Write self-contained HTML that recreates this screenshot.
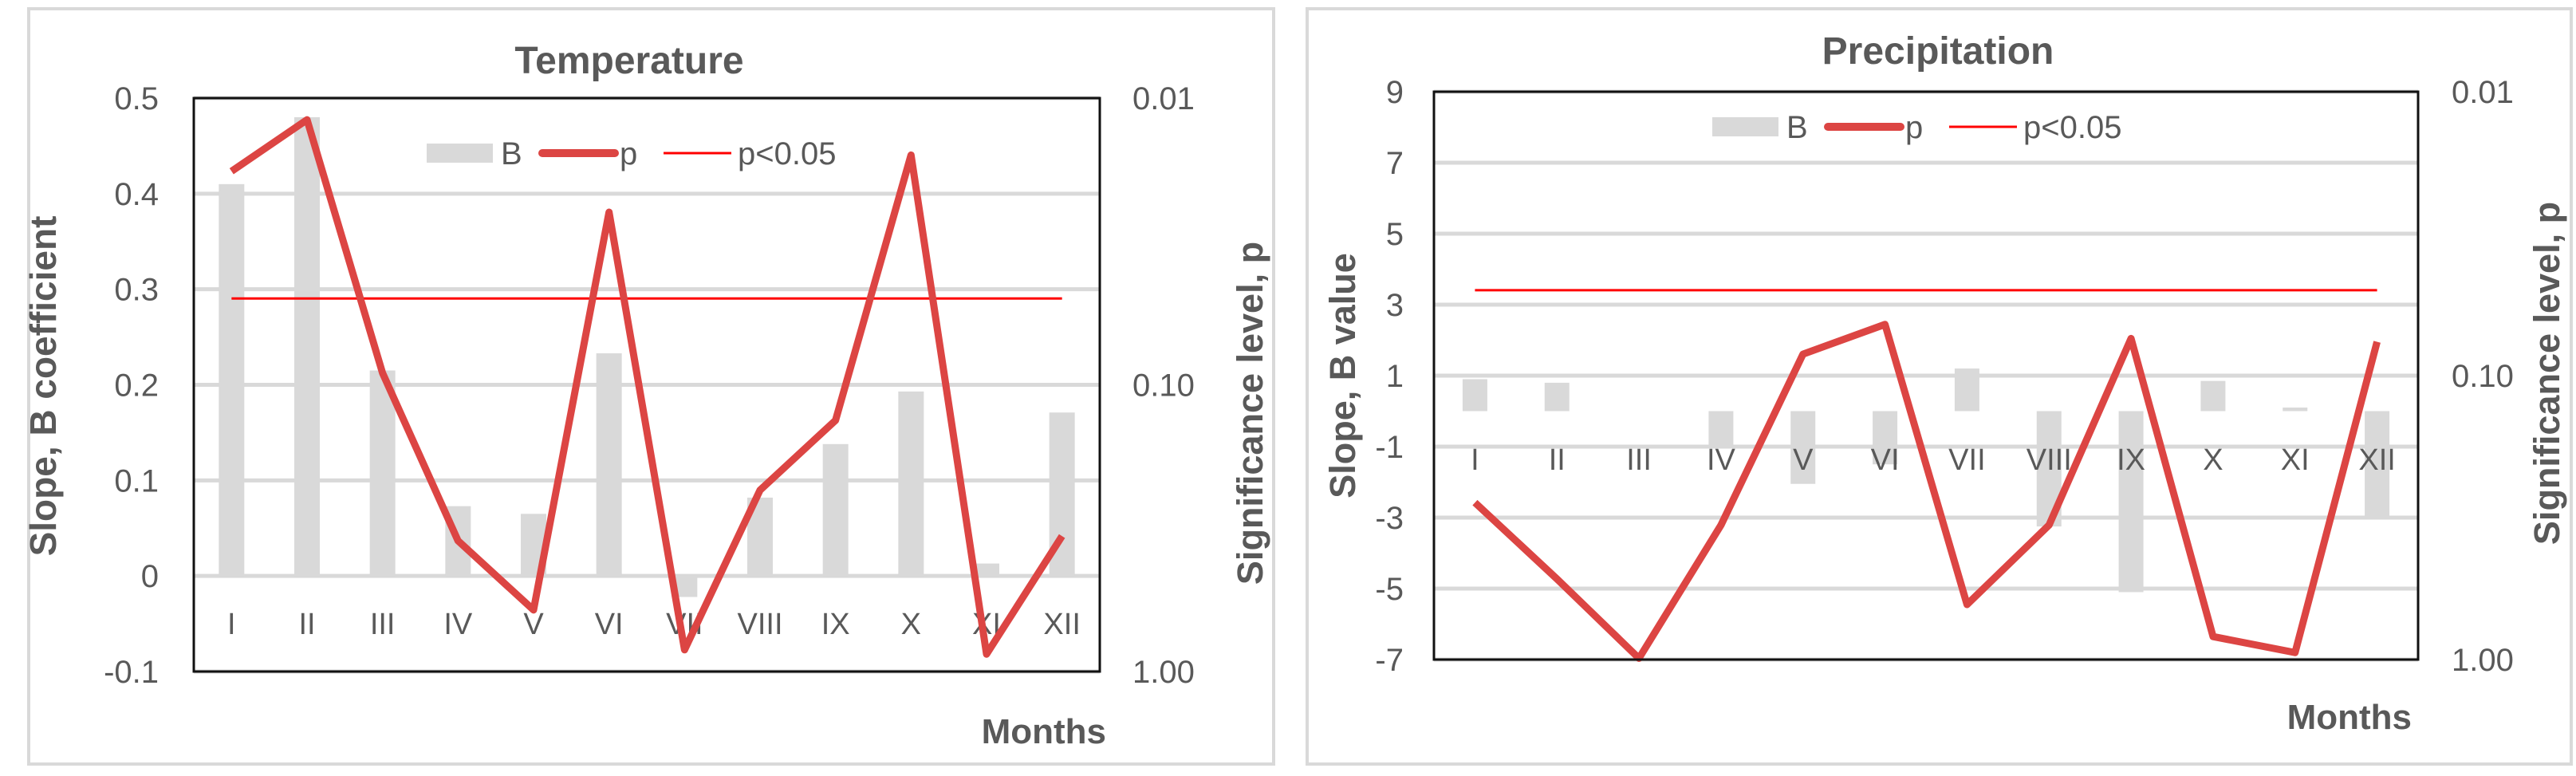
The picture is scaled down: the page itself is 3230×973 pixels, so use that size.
<!DOCTYPE html>
<html><head><meta charset="utf-8"><style>
html,body{margin:0;padding:0;background:#fff;}
svg{display:block;}
text{font-family:"Liberation Sans Narrow","Liberation Sans",sans-serif;fill:#595959;}
.b{font-family:"Liberation Sans",sans-serif;font-weight:bold;}
</style></head><body>
<svg id="c" width="3230" height="973" viewBox="0 0 3230 973" xmlns="http://www.w3.org/2000/svg"></svg>
<script>
const months = ["I","II","III","IV","V","VI","VII","VIII","IX","X","XI","XII"];
const tempB = [0.41,0.48,0.215,0.073,0.065,0.233,-0.022,0.082,0.138,0.193,0.013,0.171];
const tempP = [0.018,0.0119,0.091,0.35,0.61,0.025,0.84,0.233,0.133,0.0158,0.87,0.337];
const tempTicks = ["0.5","0.4","0.3","0.2","0.1","0","-0.1"];
const precB = [0.9,0.8,0,-1.0,-2.05,-1.5,1.2,-3.25,-5.1,0.85,0.1,-3.0];
const precP = [0.28,0.52,0.99,0.336,0.084,0.066,0.64,0.336,0.074,0.83,0.945,0.076];
const precTicks = ["9","7","5","3","1","-1","-3","-5","-7"];
const pTicks = ["0.01","0.10","1.00"];
const pThreshold = 0.05;

const svg=document.getElementById('c');
const NS="http://www.w3.org/2000/svg";
function mk(tag,attrs,parent,txt){const e=document.createElementNS(NS,tag);for(const k in attrs)e.setAttribute(k,attrs[k]);if(txt!==undefined)e.textContent=txt;(parent||svg).appendChild(e);return e;}

function chart(cfg){
  const g=mk('g',{});
  
  
  const f=mk('rect',{x:cfg.ox,y:11,width:cfg.ow,height:947,fill:'#fff',stroke:'#d9d9d9','stroke-width':4},g);
  
  const L=cfg.L,R=cfg.R,T=cfg.T,B=cfg.B;
  const ymin=cfg.ymin,ymax=cfg.ymax;
  const y=v=>T+(ymax-v)/(ymax-ymin)*(B-T);
  const yp=p=>T+(Math.log10(p)+2)/2*(B-T);
  const bw=(R-L)/months.length;
  const x=i=>L+bw*(i+0.5);
  cfg.ticks.forEach((t,i)=>{
    const v=parseFloat(t);
    const gl=mk('line',{x1:L,x2:R,y1:y(v),y2:y(v),stroke:'#d9d9d9','stroke-width':5},g);
    
    const tl=mk('text',{x:cfg.ltx,y:y(v)+14,'text-anchor':'end','font-size':40},g,t);
    
  });
  pTicks.forEach(t=>{
    const tl=mk('text',{x:cfg.rtx,y:yp(parseFloat(t))+14,'font-size':40},g,t);
    
  });
  cfg.bv.forEach((v,i)=>{
    const y0=y(0),y1=y(v);
    const r=mk('rect',{x:x(i)-cfg.barw/2,y:Math.min(y0,y1),width:cfg.barw,height:Math.abs(y1-y0),fill:'#d9d9d9'},g);
    
  });
  months.forEach((m,i)=>{
    const t=mk('text',{x:x(i),y:cfg.catY,'text-anchor':'middle','font-size':38},g,m);
    
  });
  const th=mk('line',{x1:x(0),x2:x(months.length-1),y1:yp(pThreshold),y2:yp(pThreshold),stroke:'#ff0000','stroke-width':3},g);
  
  const pl=mk('polyline',{points:cfg.pv.map((p,i)=>x(i)+','+yp(p)).join(' '),fill:'none',stroke:'#dc4543','stroke-width':9,'stroke-linejoin':'round'},g);
  
  const pb=mk('rect',{x:L,y:T,width:R-L,height:B-T,fill:'none',stroke:'#111','stroke-width':3},g);
  
  const ly=cfg.ly, lx=cfg.lx;
  const lg=mk('g',{},g);
  mk('rect',{x:lx,y:ly-12,width:83,height:24,fill:'#d9d9d9'},lg);
  mk('text',{x:lx+93,y:ly+14,'font-size':40},lg,'B');
  mk('line',{x1:lx+145,x2:lx+236,y1:ly,y2:ly,stroke:'#dc4543','stroke-width':10,'stroke-linecap':'round'},lg);
  mk('text',{x:lx+242,y:ly+14,'font-size':40},lg,'p');
  mk('line',{x1:lx+297,x2:lx+382,y1:ly,y2:ly,stroke:'#ff0000','stroke-width':3},lg);
  mk('text',{x:lx+390,y:ly+14,'font-size':40},lg,'p<0.05');
  const tt=mk('text',{x:cfg.tx,y:cfg.ty,'text-anchor':'middle','font-size':48,class:'b'},g,cfg.title);
  
  const yt=mk('text',{x:0,y:0,'text-anchor':'middle','font-size':cfg.yfs,class:'b',transform:`translate(${cfg.ytx},${cfg.yty}) rotate(-90)`},g,cfg.ytitle);
  
  const rt=mk('text',{x:0,y:0,'text-anchor':'middle','font-size':45,class:'b',transform:`translate(${cfg.rtitx},${cfg.rtity}) rotate(-90)`},g,'Significance  level, p');
  
  const mt=mk('text',{x:cfg.mx,y:cfg.my,'text-anchor':'end','font-size':44,class:'b'},g,'Months');
  
}
chart({name:'temperature-chart',ox:36,ow:1561,L:243,R:1379,T:123,B:842,ymin:-0.1,ymax:0.5,ticks:tempTicks,bv:tempB,pv:tempP,barw:32,
  ltx:199,rtx:1420,catY:795,ly:192,lx:535,tx:789,ty:92,title:'Temperature',ytitle:'Slope, B coefficient',yfs:46,ytx:70,yty:484,rtitx:1583,rtity:518,mx:1387,my:932});
chart({name:'precipitation-chart',ox:1639,ow:1585,L:1798,R:3032,T:115,B:827,ymin:-7,ymax:9,ticks:precTicks,bv:precB,pv:precP,barw:31,
  ltx:1760,rtx:3074,catY:589,ly:159,lx:2147,tx:2430,ty:80,title:'Precipitation',ytitle:'Slope, B value',yfs:45,ytx:1699,yty:471,rtitx:3209,rtity:468,mx:3024,my:914});
</script>
</body></html>
